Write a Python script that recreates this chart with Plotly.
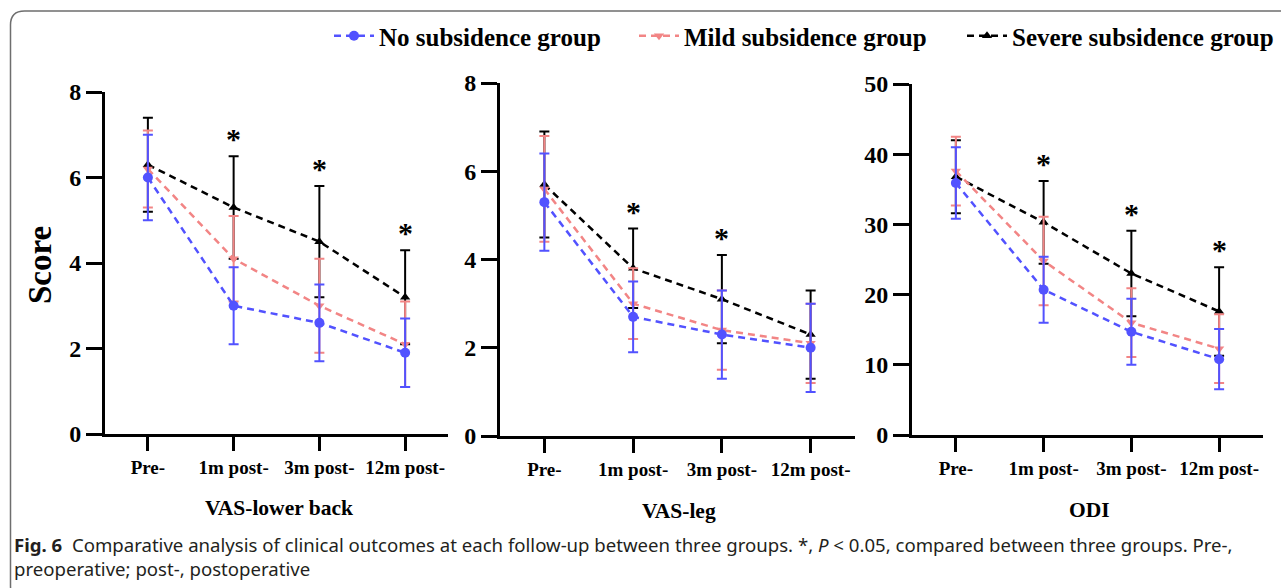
import plotly.graph_objects as go

W, H = 1281, 588

categories = ["Pre-", "1m post-", "3m post-", "12m post-"]
groups = ["No subsidence group", "Mild subsidence group", "Severe subsidence group"]

# VAS-lower back
vlb_no_mean = [6.0, 3.0, 2.6, 1.9]
vlb_no_sd = [1.0, 0.9, 0.9, 0.8]
vlb_mild_mean = [6.2, 4.1, 3.0, 2.1]
vlb_mild_sd = [0.9, 1.0, 1.1, 1.0]
vlb_sev_mean = [6.3, 5.3, 4.5, 3.2]
vlb_sev_sd = [1.1, 1.2, 1.3, 1.1]

# VAS-leg
vl_no_mean = [5.3, 2.7, 2.3, 2.0]
vl_no_sd = [1.1, 0.8, 1.0, 1.0]
vl_mild_mean = [5.6, 3.0, 2.4, 2.1]
vl_mild_sd = [1.2, 0.8, 0.9, 0.9]
vl_sev_mean = [5.7, 3.8, 3.1, 2.3]
vl_sev_sd = [1.2, 0.9, 1.0, 1.0]

# ODI
odi_no_mean = [35.9, 20.7, 14.7, 10.8]
odi_no_sd = [5.1, 4.7, 4.7, 4.3]
odi_mild_mean = [37.6, 24.8, 16.0, 12.3]
odi_mild_sd = [4.9, 6.3, 4.9, 4.9]
odi_sev_mean = [36.8, 30.3, 23.0, 17.6]
odi_sev_sd = [5.2, 5.9, 6.1, 6.3]

# significance markers (* above severe group bar) : category indices
sig_vlb = [1, 2, 3]
sig_vl = [1, 2]
sig_odi = [1, 2, 3]

colors = {"no": "#5252ff", "mild": "#f28585", "sev": "#000000"}
symbols = {"no": "circle", "mild": "triangle-down", "sev": "triangle-up"}
msize = {"no": 10, "mild": 9, "sev": 9}
names = {"no": groups[0], "mild": groups[1], "sev": groups[2]}
legend_ids = {"no": "legend", "mild": "legend2", "sev": "legend3"}

SERIF = "Liberation Serif"

def px(x):
    return x / W

def py(y):
    return 1 - y / H

panels = [
    dict(x=(105, 448), y=(434, 92), rng=[0, 8], dt=2,
         data={"sev": (vlb_sev_mean, vlb_sev_sd), "mild": (vlb_mild_mean, vlb_mild_sd),
               "no": (vlb_no_mean, vlb_no_sd)}, sig=sig_vlb,
         title="VAS-lower back", tpos=(279, 508)),
    dict(x=(500, 855), y=(436, 83), rng=[0, 8], dt=2,
         data={"sev": (vl_sev_mean, vl_sev_sd), "mild": (vl_mild_mean, vl_mild_sd),
               "no": (vl_no_mean, vl_no_sd)}, sig=sig_vl,
         title="VAS-leg", tpos=(679, 511)),
    dict(x=(912, 1263), y=(435, 84), rng=[0, 50], dt=10,
         data={"sev": (odi_sev_mean, odi_sev_sd), "mild": (odi_mild_mean, odi_mild_sd),
               "no": (odi_no_mean, odi_no_sd)}, sig=sig_odi,
         title="ODI", tpos=(1089, 510)),
]

fig = go.Figure()
annotations = []
layout = {}

for i, p in enumerate(panels):
    sfx = "" if i == 0 else str(i + 1)
    xa, ya = "x" + sfx, "y" + sfx
    for key in ["sev", "mild", "no"]:
        mean, sd = p["data"][key]
        fig.add_trace(go.Scatter(
            x=categories, y=mean, xaxis=xa, yaxis=ya,
            mode="lines+markers", name=names[key],
            legend=legend_ids[key], showlegend=(i == 0),
            line=dict(color=colors[key], width=2.5, dash="7px,5px"),
            marker=dict(symbol=symbols[key], size=msize[key], color=colors[key]),
            error_y=dict(type="data", array=sd, visible=True, color=colors[key],
                         thickness=2, width=5),
            cliponaxis=False,
        ))
    sev_mean, sev_sd = p["data"]["sev"]
    for ci in p["sig"]:
        annotations.append(dict(
            x=categories[ci], y=sev_mean[ci] + sev_sd[ci], xref=xa, yref=ya,
            text="<b>*</b>", showarrow=False, yanchor="bottom", yshift=-1,
            font=dict(family=SERIF, size=30, color="black"),
        ))
    tickvals = list(range(p["rng"][0], p["rng"][1] + 1, p["dt"]))
    layout["xaxis" + sfx] = dict(
        domain=[px(p["x"][0]), px(p["x"][1])], anchor=ya,
        type="category", categoryorder="array", categoryarray=categories,
        tickvals=categories, ticktext=["<b>%s</b>" % c for c in categories],
        range=[-0.5, 3.5], showline=True, linewidth=3, linecolor="black",
        ticks="outside", ticklen=14, tickwidth=3, tickcolor="black",
        showgrid=False, zeroline=False, automargin=False,
        tickfont=dict(family=SERIF, size=19, color="black"),
    )
    layout["yaxis" + sfx] = dict(
        domain=[py(p["y"][0]), py(p["y"][1])], anchor=xa,
        range=p["rng"], tickvals=tickvals, ticktext=["<b>%d</b>" % t for t in tickvals],
        showline=True, linewidth=3, automargin=False,
        linecolor="black", ticks="outside", ticklen=16, tickwidth=3,
        tickcolor="black", showgrid=False, zeroline=False,
        tickfont=dict(family=SERIF, size=24, color="black"),
    )
    annotations.append(dict(
        x=px(p["tpos"][0]), y=py(p["tpos"][1]), xref="paper", yref="paper",
        text="<b>%s</b>" % p["title"], showarrow=False, xanchor="center", yanchor="middle",
        font=dict(family=SERIF, size=21.5, color="black"),
    ))

annotations.append(dict(
    x=px(40), y=py(265), xref="paper", yref="paper", text="<b>Score</b>", textangle=-90,
    showarrow=False, xanchor="center", yanchor="middle",
    font=dict(family=SERIF, size=33, color="black"),
))

cap_font = dict(family="Noto Sans", size=18.6, color="#231f20")
annotations.append(dict(
    x=px(12), y=py(556), xref="paper", yref="paper", xanchor="left", yanchor="middle",
    showarrow=False, align="left", font=cap_font,
    text="<b>Fig. 6</b>  Comparative analysis of clinical outcomes at each follow-up between three groups. *, "
         "<i>P</i> &lt; 0.05, compared between three groups. Pre-,<br>"
         "preoperative; post-, postoperative",
))

# rounded frame
r = 14
x0, y0, x1, y1 = 10.5, 11, 1300, 600
frame = (f"M {px(x0 + r)},{py(y0)} L {px(x1)},{py(y0)} L {px(x1)},{py(y1)} "
         f"L {px(x0 + r)},{py(y1)} Q {px(x0)},{py(y1)} {px(x0)},{py(y1 - r)} "
         f"L {px(x0)},{py(y0 + r)} Q {px(x0)},{py(y0)} {px(x0 + r)},{py(y0)} Z")

leg_font = dict(family=SERIF, size=25, color="black", weight="bold")
def leg(xpix):
    return dict(x=px(xpix), y=py(36), xanchor="left", yanchor="middle",
                orientation="h", font=leg_font, bgcolor="rgba(0,0,0,0)",
                itemwidth=40, tracegroupgap=0)

fig.update_layout(
    width=W, height=H, margin=dict(l=0, r=0, t=0, b=0, autoexpand=False),
    paper_bgcolor="white", plot_bgcolor="white",
    font=dict(family=SERIF, color="black"),
    showlegend=True,
    legend=leg(329), legend2=leg(634), legend3=leg(962),
    annotations=annotations,
    shapes=[dict(type="path", path=frame, xref="paper", yref="paper",
                 line=dict(color="#6e6e6e", width=1.5), layer="below")],
    **layout,
)

fig.write_html("out.html")
